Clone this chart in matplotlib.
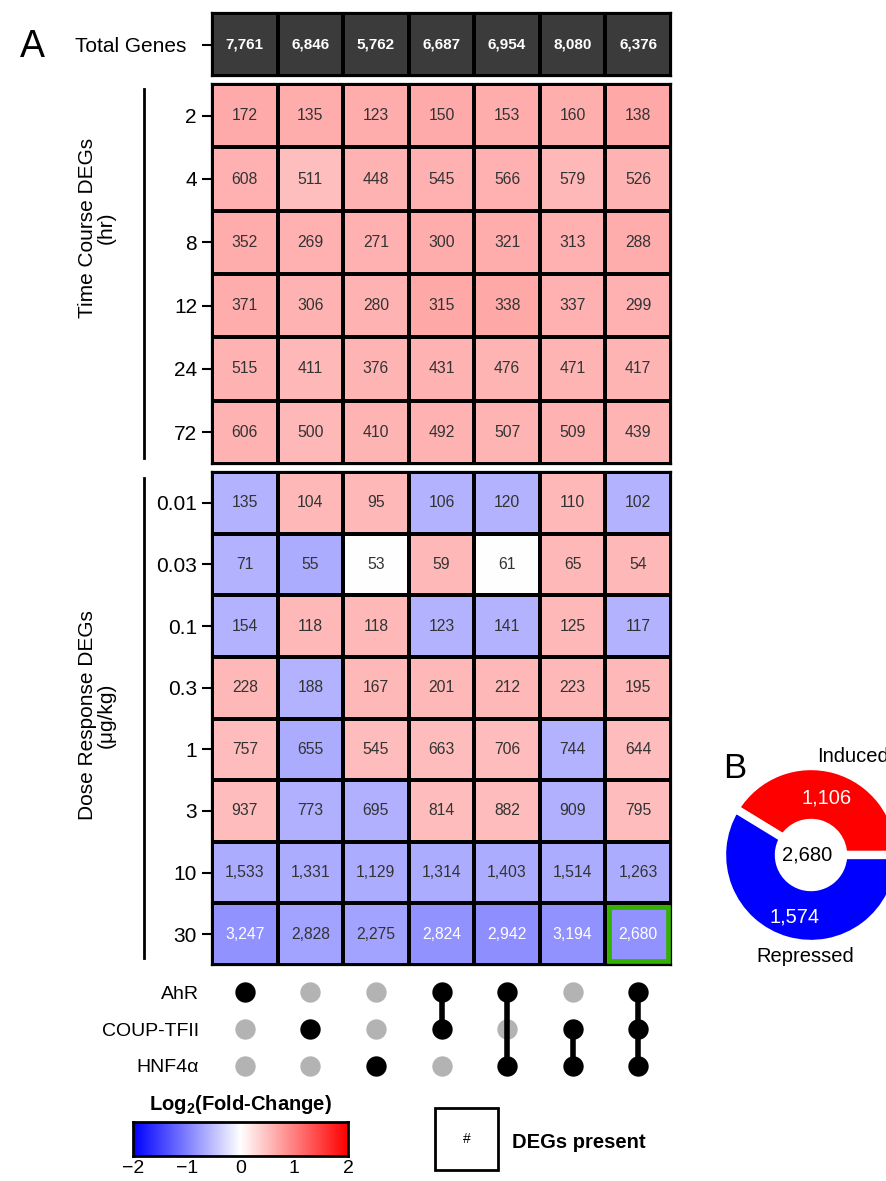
import numpy as np
import matplotlib
matplotlib.use("Agg")
import matplotlib.pyplot as plt
from matplotlib.colors import ListedColormap, Normalize
from matplotlib.patches import Rectangle
from matplotlib.lines import Line2D

plt.rcParams['font.family'] = ['Liberation Sans', 'DejaVu Sans']
plt.rcParams['mathtext.fontset'] = 'custom'
plt.rcParams['mathtext.rm'] = 'Liberation Sans'
plt.rcParams['mathtext.bf'] = 'Liberation Sans:bold'

# ---------------- data ----------------
groups = ['AhR', 'COUP-TFII', 'HNF4α']
total_genes = [7761, 6846, 5762, 6687, 6954, 8080, 6376]

time_points = ['2', '4', '8', '12', '24', '72']
time_degs = [
    [172, 135, 123, 150, 153, 160, 138],
    [608, 511, 448, 545, 566, 579, 526],
    [352, 269, 271, 300, 321, 313, 288],
    [371, 306, 280, 315, 338, 337, 299],
    [515, 411, 376, 431, 476, 471, 417],
    [606, 500, 410, 492, 507, 509, 439],
]
time_lfc = [
    [0.66, 0.65, 0.65, 0.66, 0.65, 0.63, 0.68],
    [0.62, 0.50, 0.60, 0.62, 0.62, 0.55, 0.60],
    [0.65, 0.62, 0.62, 0.65, 0.65, 0.62, 0.65],
    [0.65, 0.60, 0.60, 0.68, 0.68, 0.62, 0.62],
    [0.60, 0.55, 0.58, 0.60, 0.58, 0.58, 0.58],
    [0.60, 0.55, 0.58, 0.60, 0.58, 0.60, 0.58],
]

doses = ['0.01', '0.03', '0.1', '0.3', '1', '3', '10', '30']
dose_degs = [
    [135, 104, 95, 106, 120, 110, 102],
    [71, 55, 53, 59, 61, 65, 54],
    [154, 118, 118, 123, 141, 125, 117],
    [228, 188, 167, 201, 212, 223, 195],
    [757, 655, 545, 663, 706, 744, 644],
    [937, 773, 695, 814, 882, 909, 795],
    [1533, 1331, 1129, 1314, 1403, 1514, 1263],
    [3247, 2828, 2275, 2824, 2942, 3194, 2680],
]
dose_lfc = [
    [-0.60, 0.55, 0.55, -0.60, -0.60, 0.55, -0.60],
    [-0.60, -0.65, 0.00, 0.55, 0.00, 0.55, 0.55],
    [-0.60, 0.55, 0.55, -0.60, -0.60, 0.55, -0.60],
    [0.55, -0.60, 0.55, 0.55, 0.55, 0.55, 0.55],
    [0.52, -0.65, 0.52, 0.52, 0.52, -0.60, 0.52],
    [0.52, -0.62, -0.62, 0.52, 0.52, -0.62, 0.52],
    [-0.65, -0.65, -0.65, -0.65, -0.65, -0.65, -0.65],
    [-0.85, -0.72, -0.72, -0.85, -0.88, -0.85, -0.85],
]

membership = [
    [1, 0, 0, 1, 1, 0, 1],   # AhR
    [0, 1, 0, 1, 0, 1, 1],   # COUP-TFII
    [0, 0, 1, 0, 1, 1, 1],   # HNF4a
]

induced = 1106
repressed = 1574
highlight = (7, 6)  # row, col in dose block

# ---------------- layout helpers ----------------
W, H = 886, 1181
fig = plt.figure(figsize=(W / 100, H / 100), dpi=100)


def ax_px(x0, y0, x1, y1, **kw):
    return fig.add_axes([x0 / W, 1 - y1 / H, (x1 - x0) / W, (y1 - y0) / H], **kw)


def fx(px):
    return px / W


def fy(py):
    return 1 - py / H


cmap = plt.get_cmap('bwr')
norm = Normalize(-2, 2)
ncol = len(total_genes)
LW = 1.6
TXT = '#333333'


def style_block(ax, labels, pad=3.6):
    ax.set_xlim(0, ncol)
    ax.set_ylim(len(labels), 0)
    ax.set_xticks([])
    ax.set_yticks(np.arange(len(labels)) + 0.5)
    ax.set_yticklabels(labels, fontsize=15)
    ax.tick_params(axis='y', length=7.2, width=1.5, pad=pad)
    for s in ax.spines.values():
        s.set_linewidth(LW)


# header
axh = ax_px(212, 13, 671, 76)
axh.pcolormesh(np.array([total_genes]), cmap=ListedColormap(['#3b3b3b']),
               edgecolors='black', linewidth=LW)
style_block(axh, ['Total Genes'], pad=11)
for j, v in enumerate(total_genes):
    axh.text(j + 0.5, 0.5, f'{v:,}', ha='center', va='center', color='white',
             fontsize=11, fontweight='bold')

# time course
axt = ax_px(212, 84, 671, 464)
axt.pcolormesh(np.array(time_lfc), cmap=cmap, norm=norm, edgecolors='black', linewidth=LW)
style_block(axt, time_points)
for i, row in enumerate(time_degs):
    for j, v in enumerate(row):
        axt.text(j + 0.5, i + 0.5, f'{v:,}', ha='center', va='center',
                 color=TXT, fontsize=11.3)

# dose response
axd = ax_px(212, 472, 671, 965)
axd.pcolormesh(np.array(dose_lfc), cmap=cmap, norm=norm, edgecolors='black', linewidth=LW)
style_block(axd, doses)
for i, row in enumerate(dose_degs):
    for j, v in enumerate(row):
        c = 'white' if dose_lfc[i][j] < -0.8 else TXT
        axd.text(j + 0.5, i + 0.5, f'{v:,}', ha='center', va='center',
                 color=c, fontsize=11.3)
hr, hc = highlight
axd.add_patch(Rectangle((hc + 0.05, hr + 0.06), 0.9, 0.88, fill=False,
                        edgecolor='#33b000', linewidth=3.4, zorder=5))

# block labels and bars
fig.add_artist(Line2D([fx(144), fx(144)], [fy(89), fy(458)], color='black', lw=2))
fig.add_artist(Line2D([fx(144), fx(144)], [fy(478), fy(958)], color='black', lw=2))
fig.text(fx(97), fy(228), 'Time Course DEGs\n(hr)', rotation=90, ha='center',
         va='center', fontsize=15, linespacing=0.95)
fig.text(fx(97), fy(715), 'Dose Response DEGs\n(μg/kg)', rotation=90, ha='center',
         va='center', fontsize=15, linespacing=0.95)
fig.text(fx(20), fy(47), 'A', fontsize=27, ha='left', va='center')

# dot matrix
axm = ax_px(212, 970, 671, 1088)
axm.set_xlim(0, ncol)
axm.set_ylim(2.6, -0.6)
for s in axm.spines.values():
    s.set_visible(False)
axm.set_xticks([])
axm.set_yticks(range(len(groups)))
axm.set_yticklabels(groups, fontsize=14)
axm.tick_params(axis='y', length=0, pad=9.4)
mem = np.array(membership)
for j in range(ncol):
    rows = np.where(mem[:, j] == 1)[0]
    xs = np.full(len(groups), j + 0.5)
    off = np.where(mem[:, j] == 0)[0]
    axm.scatter(xs[off], off, s=215, color='#b3b3b3', zorder=2, linewidths=0)
    if len(rows) > 1:
        axm.plot([j + 0.5, j + 0.5], [rows.min(), rows.max()], color='black',
                 lw=4, zorder=3, solid_capstyle='butt')
    axm.scatter(xs[rows], rows, s=215, color='black', zorder=4, linewidths=0)

# colorbar legend
axc = ax_px(133, 1122, 348, 1156)
grad = np.linspace(-2, 2, 256).reshape(1, -1)
axc.imshow(grad, cmap=cmap, norm=norm, aspect='auto', extent=[-2, 2, 0, 1])
axc.set_yticks([])
axc.set_xticks([-2, -1, 0, 1, 2])
axc.set_xticklabels(['−2', '−1', '0', '1', '2'], fontsize=14)
axc.tick_params(axis='x', length=0, pad=3)
for s in axc.spines.values():
    s.set_linewidth(2)
fig.text(fx(240), fy(1105), r'Log$_\mathbf{2}$(Fold-Change)', ha='center', va='center',
         fontsize=14.5, fontweight='bold')

# DEGs present box
fig.add_artist(Rectangle((fx(435), fy(1170)), fx(498) - fx(435), fy(1108) - fy(1170),
                         fill=False, edgecolor='black', lw=2, transform=fig.transFigure))
fig.text(fx(467), fy(1139), '#', ha='center', va='center', fontsize=10)
fig.text(fx(512), fy(1143), 'DEGs present', ha='left', va='center', fontsize=14.5,
         fontweight='bold')

# panel B donut
R = 89
cx, cy = 811, 855
axp = ax_px(cx - R, cy - R, cx + R, cy + R)
axp.pie([induced, repressed], colors=['#ff0000', '#0000ff'], startangle=0,
        counterclock=True, radius=1,
        wedgeprops=dict(width=0.64, edgecolor='white', linewidth=6))
axp.set_xlim(-1, 1)
axp.set_ylim(-1, 1)
axp.set_aspect('equal')
axp.axis('off')
axp.text(0.18, 0.64, f'{induced:,}', color='white', ha='center', va='center', fontsize=14.5)
axp.text(-0.18, -0.70, f'{repressed:,}', color='white', ha='center', va='center', fontsize=14.5)
axp.text(-0.04, 0, f'{induced + repressed:,}', color='black', ha='center', va='center',
         fontsize=14.5)
fig.text(fx(817), fy(757), 'Induced', ha='left', va='center', fontsize=14.5)
fig.text(fx(805), fy(957), 'Repressed', ha='center', va='center', fontsize=14.5)
fig.text(fx(735), fy(768), 'B', fontsize=25, ha='center', va='center')

fig.savefig('out.png', dpi=100)
